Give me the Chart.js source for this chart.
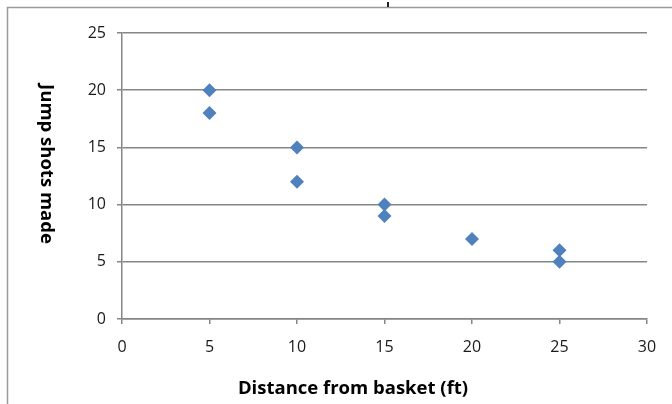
<!DOCTYPE html>
<html>
<head>
<meta charset="utf-8">
<title>Jump shots made vs distance</title>
<script src="https://cdn.jsdelivr.net/npm/chart.js@4.4.1/dist/chart.umd.min.js"></script>
<style>
    html, body { margin: 0; padding: 0; background: #ffffff; }
    #wrap { width: 672px; height: 404px; position: relative; }
</style>
</head>
<body>
<div id="wrap"><canvas id="shotChart"></canvas></div>
<script>
// Chart data
const distances = [5, 5, 10, 10, 15, 15, 20, 25, 25];
const shotsMade = [20, 18, 15, 12, 10, 9, 7, 6, 5];
const xTicks = [0, 5, 10, 15, 20, 25, 30];
const yTicks = [0, 5, 10, 15, 20, 25];
const xTitle = 'Distance from basket (ft)';
const yTitle = 'Jump shots made';

const FONT = '"Open Sans", "Noto Sans", sans-serif';
const AXIS_GREY = '#868686';

// Frame around the chart plus the two axis titles (y title reads top to bottom)
const chartFrame = {
    id: 'chartFrame',
    beforeDraw(chart) {
        const ctx = chart.ctx;
        ctx.save();
        ctx.strokeStyle = '#9a9a9a';
        ctx.lineWidth = 1.5;
        ctx.beginPath();
        ctx.moveTo(7.5, chart.height);
        ctx.lineTo(7.5, 7.5);
        ctx.lineTo(chart.width, 7.5);
        ctx.stroke();
        // small cell marker above the frame
        ctx.strokeStyle = '#222';
        ctx.lineWidth = 2;
        ctx.beginPath();
        ctx.moveTo(388, 2);
        ctx.lineTo(388, 7);
        ctx.stroke();
        ctx.restore();
    },
    afterDraw(chart) {
        const ctx = chart.ctx;
        const area = chart.chartArea;
        ctx.save();
        ctx.fillStyle = '#000';
        ctx.font = 'bold 18.5px ' + FONT;
        ctx.textAlign = 'center';
        ctx.textBaseline = 'middle';
        ctx.fillText(xTitle, area.left + area.width * 0.44, area.bottom + 70);

        ctx.translate(46, area.top + area.height * 0.458);
        ctx.rotate(Math.PI / 2);
        ctx.fillText(yTitle, 0, 0);
        ctx.restore();
    }
};

function initializeChart() {
    const ctx = document.getElementById('shotChart');
    const points = distances.map((d, i) => ({ x: d, y: shotsMade[i] }));

    new Chart(ctx, {
        type: 'scatter',
        data: {
            datasets: [{
                label: 'Jump shots made',
                data: points,
                pointStyle: 'rectRot',
                pointRadius: 7,
                pointHoverRadius: 7,
                backgroundColor: '#4F81BD',
                borderColor: '#4F81BD',
                borderWidth: 0
            }]
        },
        options: {
            responsive: true,
            maintainAspectRatio: false,
            animation: false,
            events: [],
            layout: {
                padding: { top: 33, right: 25, bottom: 0, left: 0 }
            },
            plugins: {
                legend: { display: false },
                tooltip: { enabled: false }
            },
            scales: {
                x: {
                    type: 'linear',
                    min: xTicks[0],
                    max: xTicks[xTicks.length - 1],
                    afterBuildTicks: (scale) => { scale.ticks = xTicks.map(v => ({ value: v })); },
                    afterFit: (scale) => { scale.height = 85; },
                    grid: {
                        drawOnChartArea: false,
                        drawTicks: true,
                        tickLength: 5,
                        color: AXIS_GREY,
                        lineWidth: 1.5
                    },
                    border: { display: true, color: AXIS_GREY, width: 1.5 },
                    ticks: {
                        padding: 14,
                        color: '#1a1a1a',
                        font: { family: FONT, size: 16 }
                    }
                },
                y: {
                    type: 'linear',
                    min: yTicks[0],
                    max: yTicks[yTicks.length - 1],
                    afterBuildTicks: (scale) => { scale.ticks = yTicks.map(v => ({ value: v })); },
                    afterFit: (scale) => { scale.width = 122; },
                    grid: {
                        drawTicks: true,
                        tickLength: 5,
                        color: AXIS_GREY,
                        lineWidth: 1.5
                    },
                    border: { display: true, color: AXIS_GREY, width: 1.5 },
                    ticks: {
                        padding: 11,
                        color: '#1a1a1a',
                        font: { family: FONT, size: 16 }
                    }
                }
            }
        },
        plugins: [chartFrame]
    });
}

document.addEventListener('DOMContentLoaded', initializeChart);
</script>
</body>
</html>
